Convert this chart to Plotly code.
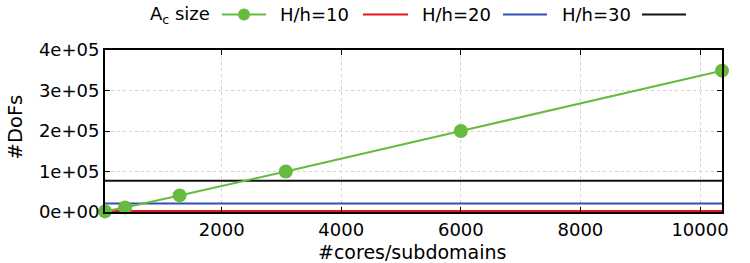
import plotly.graph_objects as go

# ---- data ----
cores = [48, 384, 1296, 3072, 6000, 10368]
ac_size = [1500, 11000, 41000, 100000, 200000, 349000]
hh_levels = ["H/h=10", "H/h=20", "H/h=30"]
hh_values = [2500, 20700, 77400]
x_ticks = [2000, 4000, 6000, 8000, 10000]
x_tick_labels = ["2000", "4000", "6000", "8000", "10000"]
y_ticks = [0, 100000, 200000, 300000, 400000]
y_tick_labels = ["0e+00", "1e+05", "2e+05", "3e+05", "4e+05"]

GREEN = "#66bb3e"
LINE_COLORS = ["#e8141c", "#3050b4", "#111111"]
FONT = "DejaVu Sans, Liberation Sans, sans-serif"

W, H = 750, 263
L, R, T, B = 105, 28, 49.5, 51.3
pw = W - L - R
ph = H - T - B

def px(xp):
    return (xp - L) / pw

def py(yp):
    return (H - B - yp) / ph

fig = go.Figure()

xmin, xmax = cores[0], cores[-1]
for name, val, col in zip(hh_levels, hh_values, LINE_COLORS):
    fig.add_trace(go.Scatter(x=[xmin, xmax], y=[val, val], mode="lines",
                             line=dict(color=col, width=2), name=name,
                             showlegend=False, hoverinfo="skip"))

fig.add_trace(go.Scatter(x=cores, y=ac_size, mode="lines+markers",
                         line=dict(color=GREEN, width=2),
                         marker=dict(color=GREEN, size=14, line=dict(width=0)),
                         name="A_c size", showlegend=False, cliponaxis=False))

# ---- manual legend (gnuplot style: text then sample) ----
leg_y = 14
entries = [
    ("A<sub>c</sub> size", 212, 222, 266, GREEN, True),
    ("H/h=10", 351, 363, 408, LINE_COLORS[0], False),
    ("H/h=20", 493, 503, 547, LINE_COLORS[1], False),
    ("H/h=30", 633, 642, 686, LINE_COLORS[2], False),
]
annotations = []
shapes = []
for text, tx, lx0, lx1, col, mk in entries:
    annotations.append(dict(text=text, x=px(tx), y=py(leg_y), xref="paper", yref="paper",
                            xanchor="right", yanchor="middle", showarrow=False,
                            font=dict(family=FONT, size=18, color="black")))
    shapes.append(dict(type="line", xref="paper", yref="paper",
                       x0=px(lx0), x1=px(lx1), y0=py(leg_y), y1=py(leg_y),
                       line=dict(color=col, width=2)))
    if mk:
        cx = 244
        shapes.append(dict(type="circle", xref="paper", yref="paper",
                           xsizemode="pixel", ysizemode="pixel",
                           xanchor=px(cx), yanchor=py(leg_y),
                           x0=-6, x1=6, y0=-6, y1=6,
                           fillcolor=GREEN, line=dict(width=0)))

annotations.append(dict(text="#DoFs", x=px(15), y=py(127), xref="paper", yref="paper",
                        textangle=-90, showarrow=False, xanchor="center", yanchor="middle",
                        font=dict(family=FONT, size=19.5, color="black")))
annotations.append(dict(text="#cores/subdomains", x=px(412), y=py(252), xref="paper", yref="paper",
                        showarrow=False, xanchor="center", yanchor="middle",
                        font=dict(family=FONT, size=19, color="black")))

fig.update_layout(
    width=W, height=H,
    margin=dict(l=L, r=R, t=T, b=B),
    paper_bgcolor="white", plot_bgcolor="white",
    font=dict(family=FONT, size=18, color="black"),
    annotations=annotations, shapes=shapes,
    showlegend=False,
)
fig.update_xaxes(range=[xmin, xmax], tickvals=x_ticks, ticktext=x_tick_labels,
                 ticks="inside", ticklen=5,
                 tickcolor="black", showline=True, linecolor="black", linewidth=2,
                 mirror="ticks", showgrid=True, gridcolor="#d2d2d2", griddash="dot",
                 gridwidth=1, zeroline=False, tickfont=dict(size=18))
fig.update_yaxes(range=[0, 400000], tickvals=y_ticks, ticktext=y_tick_labels,
                 ticks="inside", ticklen=5, tickcolor="black", showline=True,
                 linecolor="black", linewidth=2, mirror="ticks", showgrid=True,
                 gridcolor="#d2d2d2", griddash="dot", gridwidth=1, zeroline=False,
                 tickfont=dict(size=18))

fig.write_html("out.html")
